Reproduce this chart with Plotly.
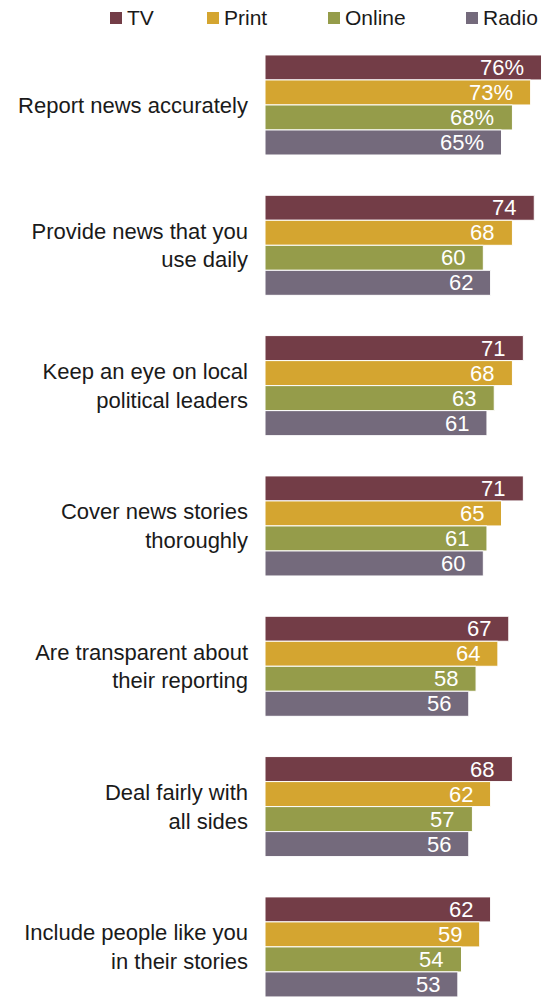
import plotly.graph_objects as go

# Survey items and the share rating each news platform well on them
categories = [
    "Report news accurately",
    "Provide news that you<br>use daily",
    "Keep an eye on local<br>political leaders",
    "Cover news stories<br>thoroughly",
    "Are transparent about<br>their reporting",
    "Deal fairly with<br>all sides",
    "Include people like you<br>in their stories",
]
series_names = ["TV", "Print", "Online", "Radio"]
tv = [76, 74, 71, 71, 67, 68, 62]
print_ = [73, 68, 68, 65, 64, 62, 59]
online = [68, 60, 63, 61, 58, 57, 54]
radio = [65, 62, 61, 60, 56, 56, 53]
series_values = [tv, print_, online, radio]
colors = ["#733d47", "#d4a530", "#959c4a", "#746a7c"]

FONT = "Liberation Sans"
TEXT_COLOR = "#1a1a1a"
W, H = 543, 998
ML, MR, MT, MB = 265, 0, 40, 0
PW, PH = W - ML - MR, H - MT - MB
X_MAX = 76.4
BARGAP = 0.287
Y_RANGE = [6.364, -0.463]

fig = go.Figure()
for name, vals, col in zip(series_names, series_values, colors):
    fig.add_trace(go.Bar(
        name=name, y=list(range(len(categories))), x=vals, orientation="h",
        marker=dict(color=col, line=dict(color="white", width=1)),
        hoverinfo="x+name",
    ))

# value labels, right-aligned inside each bar
n = len(series_names)
bw = (1 - BARGAP) / n
annotations = []
for k, vals in enumerate(series_values):
    for i, v in enumerate(vals):
        label = f"{v}%" if i == 0 else f"{v}"
        yc = i - (1 - BARGAP) / 2 + (k + 0.5) * bw
        annotations.append(dict(
            x=v, y=yc, xref="x", yref="y", text=label, showarrow=False,
            xanchor="right", yanchor="middle", xshift=-16,
            font=dict(family=FONT, size=22, color="white"),
        ))

# legend row drawn as swatches + labels across the top
def px_to_paper_x(px):
    return (px - ML) / PW

def px_to_paper_y(py):
    return (H - MB - py) / PH

legend_x = [110, 207, 328, 466]
shapes = []
for name, col, lx in zip(series_names, colors, legend_x):
    shapes.append(dict(
        type="rect", xref="paper", yref="paper",
        x0=px_to_paper_x(lx), x1=px_to_paper_x(lx + 12),
        y0=px_to_paper_y(24), y1=px_to_paper_y(12),
        fillcolor=col, line=dict(width=0),
    ))
    annotations.append(dict(
        x=px_to_paper_x(lx + 15), y=px_to_paper_y(18), xref="paper", yref="paper",
        text=name, showarrow=False, xanchor="left", yanchor="middle",
        font=dict(family=FONT, size=21, color=TEXT_COLOR),
    ))

fig.update_layout(
    width=W, height=H,
    margin=dict(l=ML, r=MR, t=MT, b=MB, pad=0),
    barmode="group", bargap=BARGAP, bargroupgap=0,
    plot_bgcolor="white", paper_bgcolor="white",
    showlegend=False,
    font=dict(family=FONT, size=22, color=TEXT_COLOR),
    xaxis=dict(range=[0, X_MAX], visible=False, fixedrange=True),
    yaxis=dict(
        range=Y_RANGE, tickmode="array", tickvals=list(range(len(categories))),
        ticktext=categories, showgrid=False, zeroline=False, showline=False,
        ticks="", ticklabelstandoff=16,
        tickfont=dict(family=FONT, size=22, color=TEXT_COLOR),
    ),
    annotations=annotations, shapes=shapes,
)

fig.write_html("out.html")
